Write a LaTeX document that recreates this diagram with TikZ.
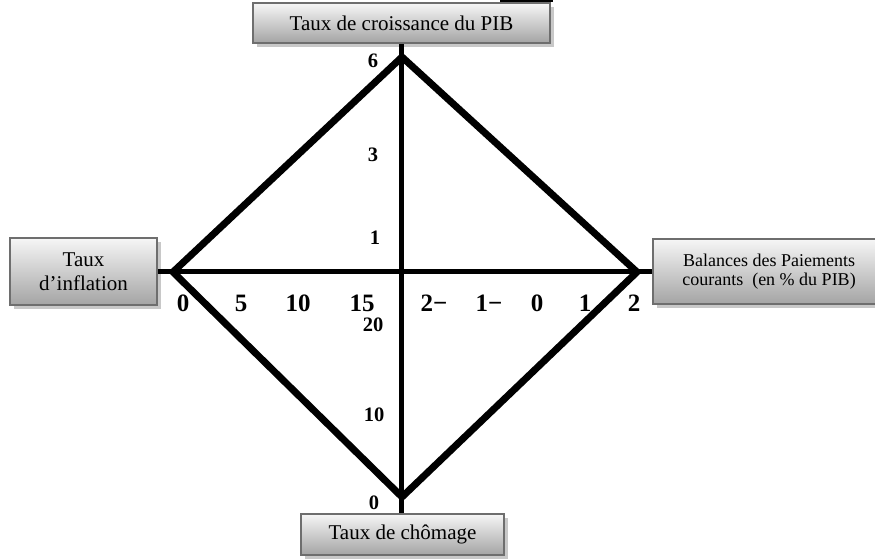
\documentclass[tikz,border=0pt]{standalone}
\usepackage{fontspec}
\setmainfont{Liberation Serif}
\usetikzlibrary{shadows}
\definecolor{boxborder}{HTML}{6E6E6E}
\definecolor{boxtop}{HTML}{F6F6F6}
\definecolor{boxbot}{HTML}{A4A4A4}
\definecolor{shadowgray}{HTML}{C8C8C8}
\tikzset{
  gbox/.style={draw=boxborder, line width=2.5pt, top color=boxtop, bottom color=boxbot,
    inner sep=0pt, align=center, font=\fontsize{21}{24}\selectfont,
    drop shadow={shadow xshift=3.5pt, shadow yshift=-3.5pt, fill=shadowgray, opacity=1}},
  axisline/.style={line width=4.5pt, black},
  diam/.style={line width=7pt, black, line join=miter},
  biglab/.style={font=\fontsize{25}{25}\selectfont\bfseries, inner sep=0pt},
  smalllab/.style={font=\fontsize{20.5}{20.5}\selectfont\bfseries, inner sep=0pt},
}
\begin{document}
\begin{tikzpicture}[x=1pt,y=-1pt]
\useasboundingbox (0,0) rectangle (875,558);
\fill[white] (0,0) rectangle (875,558);
% boxes
\node[gbox, minimum width=297pt, minimum height=40pt] (top) at (401.5,23) {Taux de croissance du PIB};
\node[gbox, minimum width=147pt, minimum height=67pt] (left) at (83.5,271.5) {Taux\\d’inflation};
\node[gbox, minimum width=232pt, minimum height=65pt, font=\fontsize{18}{19.5}\selectfont] (right) at (769,271.5) {Balances des Paiements\\courants~ (en \% du PIB)};
\node[gbox, minimum width=203pt, minimum height=41pt] (bottom) at (402.5,534.5) {Taux de chômage};
\fill[black] (500,0) rectangle (553,1.6);
% axes
\draw[axisline] (top.south) -- (top.south |- bottom.north);
\draw[axisline] (left.east) -- (right.west);
% diamond
\coordinate (T) at (402,57);
\coordinate (L) at (173,272);
\coordinate (R) at (637,272);
\coordinate (B) at (402,497);
\draw[diam] (T) -- (R) -- (B) -- (L) -- cycle;
% labels
\node[smalllab] (l6) at (373,61) {6};
\node[smalllab] (l3) at (373,155) {3};
\node[smalllab] (l1) at (375,238) {1};
\node[smalllab] (l20) at (373,325) {20};
\node[smalllab] (l10) at (374,415) {10};
\node[smalllab] (l0b) at (374,503) {0};
\node[biglab] (a0) at (183,303) {0};
\node[biglab] (a5) at (241,303) {5};
\node[biglab] (a10) at (298,303) {10};
\node[biglab] (a15) at (362,303) {15};
\node[biglab] (b2m) at (434,303) {2−};
\node[biglab] (b1m) at (489,303) {1−};
\node[biglab] (b0) at (537,303) {0};
\node[biglab] (b1) at (585,303) {1};
\node[biglab] (b2) at (634,303) {2};
\end{tikzpicture}
\end{document}
